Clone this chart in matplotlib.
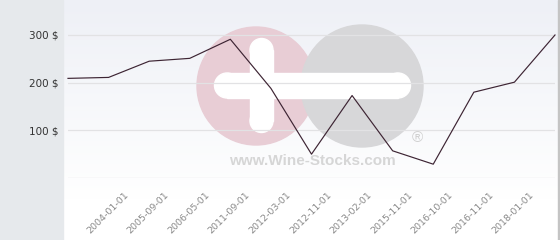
import numpy as np
import matplotlib
matplotlib.use("Agg")
import matplotlib.pyplot as plt
from matplotlib.patches import Rectangle, Circle

# ---- data ----
values = [209, 211, 245, 251, 291, 188, 50, 173, 57, 29, 180, 201, 300]
date_labels = ["2004-01-01", "2005-09-01", "2006-05-01", "2011-09-01", "2012-03-01",
               "2012-11-01", "2013-02-01", "2015-11-01", "2016-10-01", "2016-11-01",
               "2018-01-01"]
y_ticks = [100, 200, 300]
y_tick_labels = ["100 $", "200 $", "300 $"]

W, H = 560, 240
fig = plt.figure(figsize=(W / 100, H / 100), dpi=100)
fig.patch.set_facecolor("white")

# ---- background axes in pixel coordinates ----
bg = fig.add_axes([0, 0, 1, 1], zorder=0)
bg.set_xlim(0, W)
bg.set_ylim(0, H)
bg.axis("off")

def py(y):
    return H - y

# plot-area gradient
top = np.array([0xee, 0xf0, 0xf6]) / 255
bot = np.array([1.0, 1.0, 1.0])
n = 200
t = np.linspace(0, 1, n)[:, None]
grad = top * (1 - t) + bot * t
bg.imshow(grad[:, None, :], extent=[63, 558, py(200), py(0)], aspect="auto", zorder=0)
bg.add_patch(Rectangle((63, 0), 495, py(200), color="white", zorder=0))
# left panel
bg.add_patch(Rectangle((0, 0), 63, H, color="#e6e9ec", zorder=1))
# right border
bg.add_patch(Rectangle((558, 0), 1.2, H, color="#c4c4c4", zorder=1))

# watermark
bg.add_patch(Circle((256, py(86)), 59, color="#e8cdd5", zorder=2))
bg.add_patch(Circle((362, py(86)), 61, color="#d7d7d9", zorder=2))
bg.add_patch(Rectangle((227, py(98)), 410 - 215 - 24, 25, color="white", zorder=3))
bg.add_patch(Circle((227, py(85.5)), 12.5, color="white", zorder=3))
bg.add_patch(Circle((398, py(85.5)), 12.5, color="white", zorder=3))
bg.add_patch(Rectangle((250, py(121)), 23, 71, color="white", zorder=3))
bg.add_patch(Circle((261.5, py(50)), 11.5, color="white", zorder=3))
bg.add_patch(Circle((261.5, py(121)), 11.5, color="white", zorder=3))
bg.text(312, py(161), "www.Wine-Stocks.com", ha="center", va="center",
        fontsize=11, fontweight="bold", color="#d6d6d6",
        family="Liberation Sans", zorder=4)
bg.text(417, py(138), "\u00ae", ha="center", va="center", fontsize=11,
        color="#d0d0d0", family="Liberation Sans", zorder=4)

# ---- main axes ----
x0, x1 = 68, 555
yb, yt = 178, 0
ax = fig.add_axes([x0 / W, (H - yb) / H, (x1 - x0) / W, (yb - yt) / H], zorder=2)
ax.patch.set_alpha(0)
xs = np.arange(len(values))
ax.set_xlim(0, len(values) - 1)
ax.set_ylim(0, 178 / 0.4767)

ax.plot(xs, values, color="#3d2433", lw=0.85, clip_on=False, zorder=3)

ax.set_yticks(y_ticks)
ax.set_yticklabels(y_tick_labels, fontsize=7.5, color="#333333", family="DejaVu Sans")
ax.yaxis.grid(True, color="#e2e2e4", lw=0.9, zorder=1)
ax.axhline(0, color="#dcdcde", lw=0.9, zorder=1)
ax.tick_params(axis="y", length=0, pad=6.5)

tick_pos = np.arange(1, len(date_labels) + 1) + 0.45
ax.set_xticks(tick_pos)
ax.set_xticklabels(date_labels, fontsize=6.8, color="#8a8a8a", family="DejaVu Sans")
ax.tick_params(axis="x", length=0, pad=11)
for lbl in ax.get_xticklabels():
    lbl.set_rotation(45)
    lbl.set_rotation_mode("anchor")
    lbl.set_ha("right")
    lbl.set_va("center")

for s in ax.spines.values():
    s.set_visible(False)

fig.savefig("out.png", dpi=100, facecolor="white")
